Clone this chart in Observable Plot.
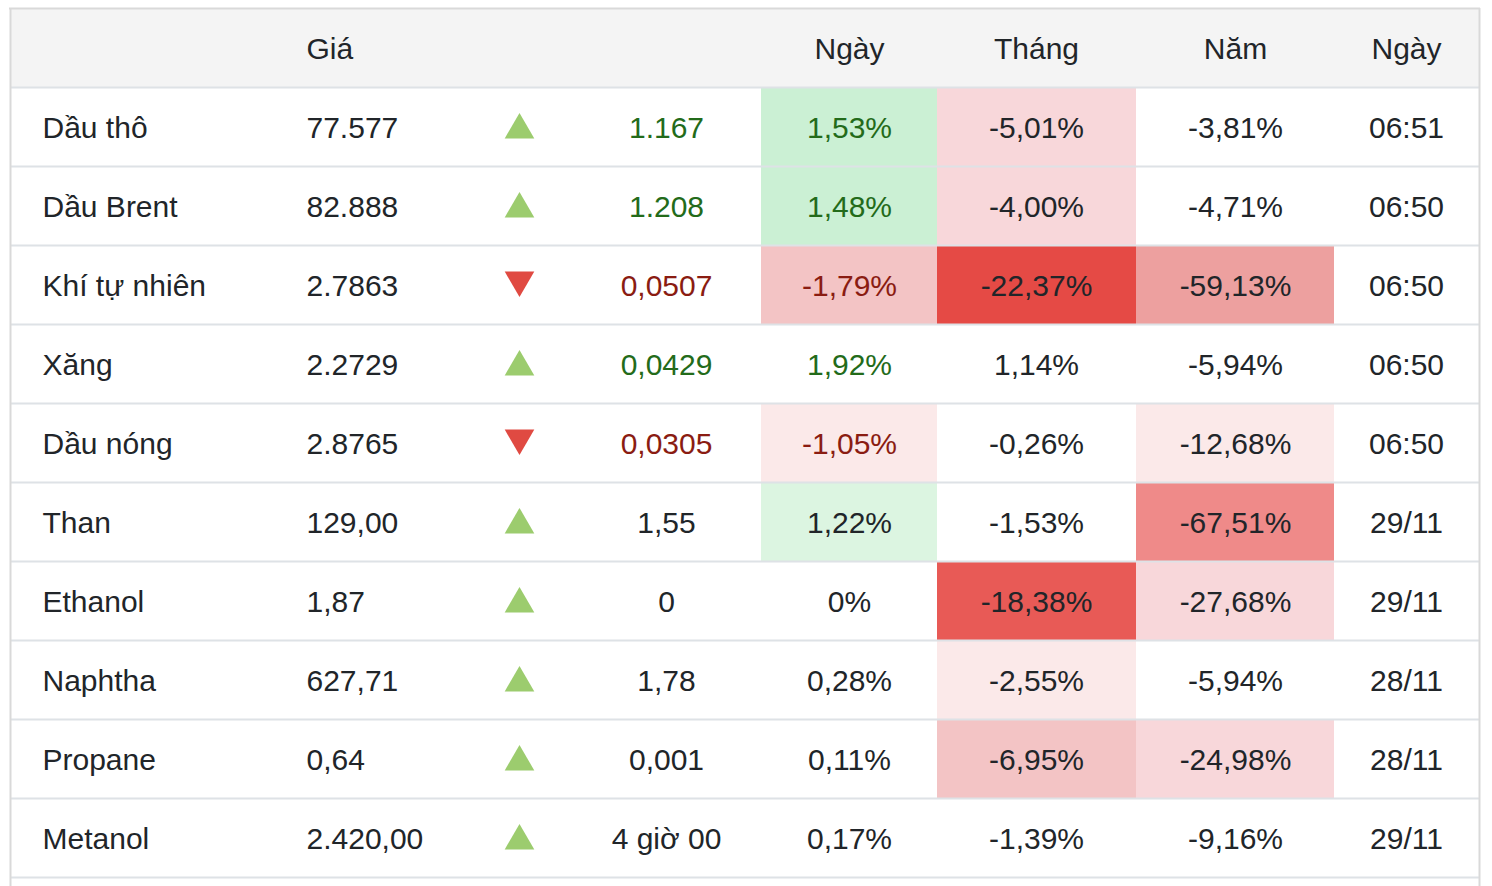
<!DOCTYPE html>
<html>
<head>
<meta charset="utf-8">
<script src="https://cdn.jsdelivr.net/npm/d3@7"></script>
<script src="https://cdn.jsdelivr.net/npm/@observablehq/plot@0.6"></script>
<style>
  html, body { margin: 0; padding: 0; background: #fff; }
  #chart svg { display: block; }
</style>
</head>
<body>
<div id="chart"></div>
<script>
// ---- data ----
const headers = ["", "Giá", "", "", "Ngày", "Tháng", "Năm", "Ngày"];
const names = ["Dầu thô", "Dầu Brent", "Khí tự nhiên", "Xăng", "Dầu nóng", "Than", "Ethanol", "Naphtha", "Propane", "Metanol"];
const prices = ["77.577", "82.888", "2.7863", "2.2729", "2.8765", "129,00", "1,87", "627,71", "0,64", "2.420,00"];
const directions = ["up", "up", "down", "up", "down", "up", "up", "up", "up", "up"];
const changes = ["1.167", "1.208", "0,0507", "0,0429", "0,0305", "1,55", "0", "1,78", "0,001", "4 giờ 00"];
const dayPct = ["1,53%", "1,48%", "-1,79%", "1,92%", "-1,05%", "1,22%", "0%", "0,28%", "0,11%", "0,17%"];
const monthPct = ["-5,01%", "-4,00%", "-22,37%", "1,14%", "-0,26%", "-1,53%", "-18,38%", "-2,55%", "-6,95%", "-1,39%"];
const yearPct = ["-3,81%", "-4,71%", "-59,13%", "-5,94%", "-12,68%", "-67,51%", "-27,68%", "-5,94%", "-24,98%", "-9,16%"];
const times = ["06:51", "06:50", "06:50", "06:50", "06:50", "29/11", "29/11", "28/11", "28/11", "29/11"];
// heat level of each percentage cell (0 = none, + green, - red)
const dayHeat = [2, 2, -3, 0, -1, 1, 0, 0, 0, 0];
const monthHeat = [-2, -2, -6, 0, 0, 0, -5, -1, -3, 0];
const yearHeat = [0, 0, -4, 0, -1, -4.5, -2, 0, -2, 0];

// ---- layout ----
const W = 1492, H = 886;
const left = 10, right = 1479;
const colX = {name: 42, price: 306, arrow: 519, change: 666, day: 849, month: 1036, year: 1235, time: 1406};
const colEdges = {day: [761, 937], month: [937, 1136], year: [1136, 1334]};
const font = "'Liberation Sans', Arial, Helvetica, sans-serif";
const ink = "#212529", green = "#236b1a", red = "#8a1c12";

const rows = names.map((name, i) => ({
  row: i + 1, name, price: prices[i], dir: directions[i], change: changes[i],
  day: dayPct[i], month: monthPct[i], year: yearPct[i], time: times[i],
  live: times[i].includes(":")
}));

const heatCells = [];
for (const [key, arr] of [["day", dayHeat], ["month", monthHeat], ["year", yearHeat]]) {
  arr.forEach((h, i) => { if (h !== 0) heatCells.push({row: i + 1, col: key, heat: h}); });
}

const heatDomain = [-6, -5, -4.5, -4, -3, -2, -1, 1, 2];
const heatRange = ["#e54a45", "#e85a56", "#ef8a89", "#eda09f", "#f3c4c5", "#f8d7da", "#fbe9e9", "#dcf5e1", "#cbf0d4"];

const headerCols = ["name", "price", "arrow", "change", "day", "month", "year", "time"];
const headerRows = headers.map((h, i) => ({label: h, col: headerCols[i]})).filter(d => d.label);

const textColor = (d, key) => {
  if (!d.live) return ink;
  if (key === "change" || key === "day") return d.dir === "up" ? green : red;
  return ink;
};

const textMark = (key) => Plot.text(rows, {
  x: () => colX[key], y: d => d.row + 0.5, text: key,
  fill: d => textColor(d, key), fontSize: 30, textAnchor: "middle", dy: 1
});

const chart = Plot.plot({
  width: W, height: H,
  marginTop: 0, marginRight: 0, marginBottom: 0, marginLeft: 0,
  x: {type: "linear", domain: [0, W], range: [0, W], axis: null},
  y: {type: "linear", domain: [0, 11], range: [8, 877], axis: null},
  color: {type: "ordinal", domain: heatDomain, range: heatRange},
  style: {background: "#fff", fontFamily: font, fontSize: "30px", color: ink, overflow: "hidden"},
  marks: [
    // header background
    Plot.rect([0], {x1: left, x2: right, y1: 0, y2: 1, fill: "#f4f4f4"}),
    // heat cells
    Plot.rect(heatCells, {
      x1: d => colEdges[d.col][0], x2: d => colEdges[d.col][1],
      y1: "row", y2: d => d.row + 1, fill: "heat"
    }),
    // row separators
    Plot.ruleY(d3.range(1, 12), {x1: left, x2: right, stroke: "#dee2e6", strokeWidth: 2}),
    // outer border
    Plot.ruleY([0], {x1: left - 1, x2: right + 1, stroke: "#d9d9d9", strokeWidth: 2}),
    Plot.ruleX([left, right], {y1: 0, y2: 11.3, stroke: "#d9d9d9", strokeWidth: 2}),
    // header text
    Plot.text(headerRows.filter(d => d.col === "price"), {
      x: d => colX[d.col], y: () => 0.5, text: "label", fill: ink, fontSize: 30, textAnchor: "start", dy: 1
    }),
    Plot.text(headerRows.filter(d => d.col !== "price"), {
      x: d => colX[d.col], y: () => 0.5, text: "label", fill: ink, fontSize: 30, textAnchor: "middle", dy: 1
    }),
    // body text
    Plot.text(rows, {x: () => colX.name, y: d => d.row + 0.5, text: "name", fill: ink, fontSize: 30, textAnchor: "start", dy: 1}),
    Plot.text(rows, {x: () => colX.price, y: d => d.row + 0.5, text: "price", fill: ink, fontSize: 30, textAnchor: "start", dy: 1}),
    textMark("change"), textMark("day"), textMark("month"), textMark("year"), textMark("time"),
    // arrows
    Plot.dot(rows.filter(d => d.dir === "up"), {
      x: () => colX.arrow, y: d => d.row + 0.5, symbol: "triangle", r: 11, fill: "#9ccc6e", stroke: "none", dy: 3
    }),
    Plot.dot(rows.filter(d => d.dir === "down"), {
      x: () => colX.arrow, y: d => d.row + 0.5, symbol: "triangle", r: 11, rotate: 180, fill: "#e04a42", stroke: "none", dy: -5
    })
  ]
});

document.getElementById("chart").appendChild(chart);
</script>
</body>
</html>
